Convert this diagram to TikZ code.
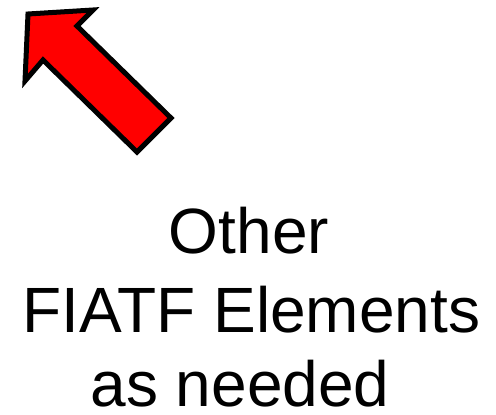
\documentclass[tikz,border=0pt]{standalone}
\usepackage{fontspec}
\setmainfont{Liberation Sans}

\begin{document}
\begin{tikzpicture}[x=1pt, y=-1pt, line join=miter]
  \useasboundingbox (0,0) rectangle (496,415);
  \coordinate (T) at (28,14);
  \coordinate (U) at (93,10);
  \coordinate (N) at (77,26);
  \coordinate (R) at (171,118);
  \coordinate (B) at (137,152);
  \coordinate (M) at (43,60);
  \coordinate (L) at (25,81);
  % red block arrow
  \draw[line width=5pt, fill=red] (T)--(U)--(N)--(R)--(B)--(M)--(L)--cycle;
  % label lines
  \tikzset{big/.style={anchor=base, inner sep=0pt, font=\fontsize{64}{77}\selectfont}}
  \node[big] (other) at (249,253) {Other};
  \node[big] (fiatf) at (251.5,332) {FIATF Elements};
  \node[big] (needed) at (240,406) {as needed};
\end{tikzpicture}
\end{document}
